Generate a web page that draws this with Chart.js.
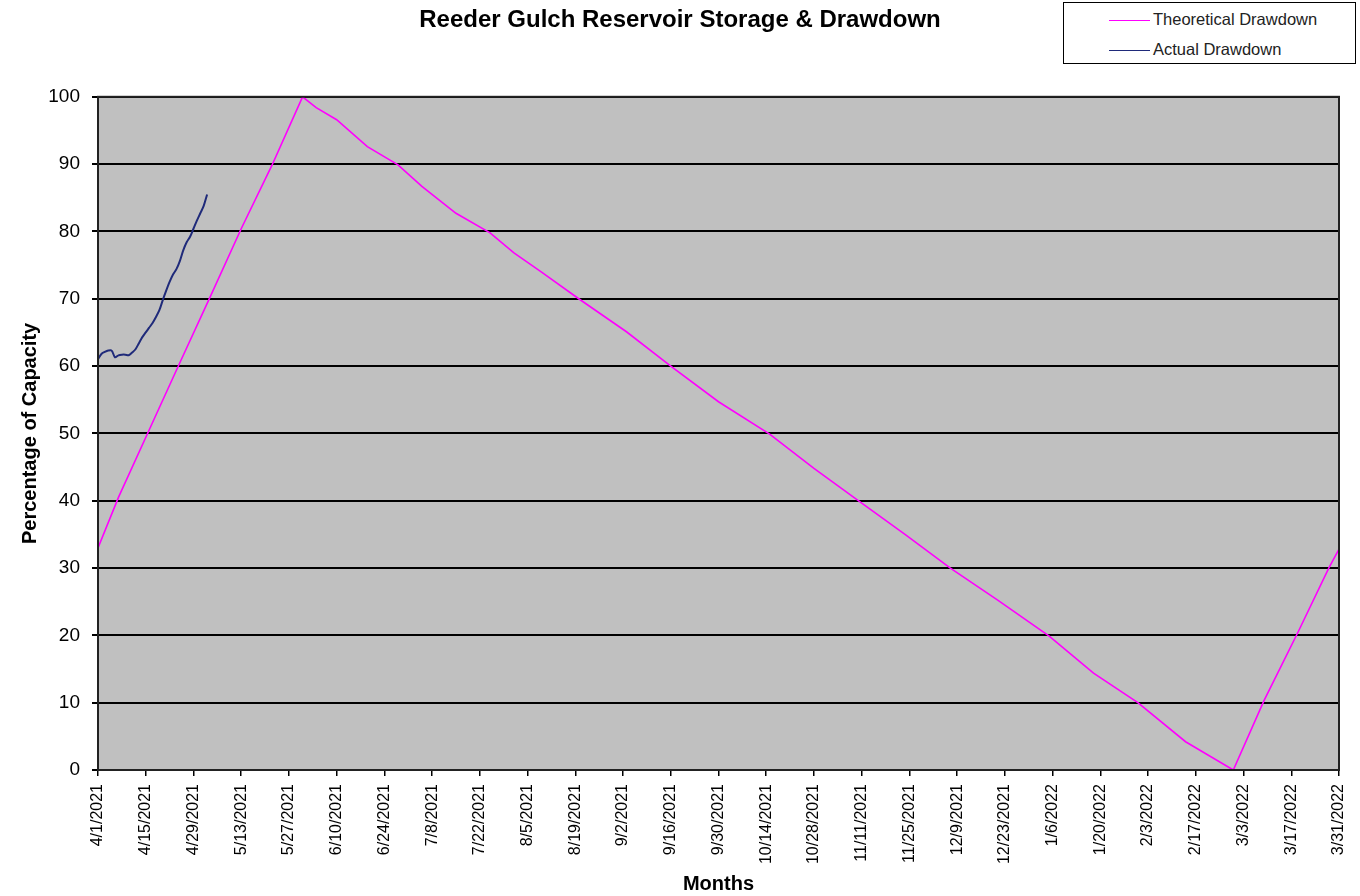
<!DOCTYPE html>
<html>
<head>
<meta charset="utf-8">
<title>Reeder Gulch Reservoir Storage & Drawdown</title>
<script src="https://cdn.jsdelivr.net/npm/chart.js@4/dist/chart.umd.min.js"></script>
<style>
  html, body { margin: 0; padding: 0; background: #fff; }
  #wrap { position: relative; width: 1360px; height: 896px; }
  #legendBox {
    position: absolute; left: 1063px; top: 2px; width: 291px; height: 60px;
    border: 1.5px solid #000; background: #fff;
    font-family: "Liberation Sans", Arial, sans-serif; font-size: 16.5px; color: #222;
  }
  .item { position: absolute; left: 45px; height: 20px; line-height: 20px; white-space: nowrap; }
  .item span.line { display: inline-block; width: 41px; height: 0; border-top: 1.5px solid; vertical-align: middle; margin-right: 3px; }
</style>
</head>
<body>
<div id="wrap">
  <canvas id="dataChart" width="1360" height="896"></canvas>
  <div id="legendBox">
    <div class="item" style="top:6px"><span class="line" style="border-color:#ff00ff"></span>Theoretical Drawdown</div>
    <div class="item" style="top:36px"><span class="line" style="border-color:#1f2a7a"></span>Actual Drawdown</div>
  </div>
</div>
<script>
// Etiquetas del eje X (cada 14 días desde 4/1/2021)
const tickLabels = ['4/1/2021', '4/15/2021', '4/29/2021', '5/13/2021', '5/27/2021', '6/10/2021', '6/24/2021',
  '7/8/2021', '7/22/2021', '8/5/2021', '8/19/2021', '9/2/2021', '9/16/2021', '9/30/2021', '10/14/2021',
  '10/28/2021', '11/11/2021', '11/25/2021', '12/9/2021', '12/23/2021', '1/6/2022', '1/20/2022', '2/3/2022',
  '2/17/2022', '3/3/2022', '3/17/2022', '3/31/2022'];

// Días desde 4/1/2021 y porcentaje de capacidad
const theoDays = [0, 6, 15, 24, 33, 42, 51, 60, 64, 70, 79, 88, 95, 105, 115, 122, 130, 141, 155, 168, 182,
  197, 210, 223, 237, 250, 264, 279, 292, 305, 319, 333, 342, 352, 361, 364];
const theoValues = [33, 40.5, 50.5, 60.5, 70.4, 80.4, 89.8, 100, 98.4, 96.6, 92.6, 89.9, 86.7, 82.7, 79.8,
  76.8, 74.0, 70.0, 65.1, 60.0, 54.7, 49.9, 44.8, 40.0, 34.9, 30.0, 25.2, 19.9, 14.4, 10.0, 4.2, 0,
  10.3, 20.5, 30.0, 32.8];

const actualDays = [0, 1, 2, 3, 4, 5, 6, 7, 8, 9, 10, 11, 12, 13, 14, 15, 16, 17, 18, 19, 20, 21, 22, 23,
  24, 25, 26, 27, 28, 29, 30, 31, 32];
const actualValues = [61.0, 61.8, 62.1, 62.3, 62.3, 61.3, 61.6, 61.7, 61.7, 61.6, 62.0, 62.5, 63.4, 64.3,
  65.0, 65.7, 66.4, 67.3, 68.3, 69.8, 71.2, 72.5, 73.6, 74.4, 75.6, 77.2, 78.4, 79.2, 80.4, 81.6, 82.7,
  83.8, 85.5];

const FONT = '"Liberation Sans", Arial, sans-serif';

// Fondo gris y borde del área de trazado
const plotArea = {
  id: 'plotArea',
  beforeDraw(chart) {
    const { ctx, chartArea: a } = chart;
    ctx.save();
    ctx.fillStyle = '#c0c0c0';
    ctx.fillRect(a.left, a.top, a.right - a.left, a.bottom - a.top);
    ctx.restore();
  },
  afterDatasetsDraw(chart) {
    const { ctx, chartArea: a } = chart;
    ctx.save();
    ctx.strokeStyle = '#222';
    ctx.lineWidth = 2;
    ctx.strokeRect(a.left, a.top, a.right - a.left, a.bottom - a.top);
    ctx.restore();
  }
};

const toPoints = (xs, ys) => xs.map((x, i) => ({ x: x, y: ys[i] }));

new Chart(document.getElementById('dataChart'), {
  type: 'line',
  data: {
    datasets: [{
      label: 'Theoretical Drawdown',
      data: toPoints(theoDays, theoValues),
      borderColor: '#ff00ff',
      borderWidth: 1.6,
      pointRadius: 0,
      tension: 0
    }, {
      label: 'Actual Drawdown',
      data: toPoints(actualDays, actualValues),
      borderColor: '#1f2a7a',
      borderWidth: 2,
      pointRadius: 0,
      tension: 0.3
    }]
  },
  options: {
    responsive: false,
    animation: false,
    layout: { padding: 0 },
    plugins: {
      legend: { display: false },
      tooltip: { enabled: false },
      title: {
        display: true,
        text: 'Reeder Gulch Reservoir Storage & Drawdown',
        color: '#000',
        font: { family: FONT, size: 24, weight: 'bold' },
        padding: { top: 6, bottom: 62 }
      }
    },
    scales: {
      x: {
        type: 'linear',
        min: 0,
        max: 364,
        afterFit(scale) {
          scale.height = 126;
          scale.paddingLeft = 0;
          scale.paddingRight = 0;
        },
        afterBuildTicks(scale) {
          scale.ticks = tickLabels.map((l, i) => ({ value: i * 14 }));
        },
        ticks: {
          autoSkip: false,
          maxRotation: 90,
          minRotation: 90,
          padding: 8,
          color: '#000',
          font: { family: FONT, size: 16 },
          callback: (v, i) => tickLabels[i]
        },
        grid: { drawOnChartArea: false, drawTicks: true, tickLength: 6, color: '#000', lineWidth: 1.5 },
        border: { display: true, color: '#222', width: 2 },
        title: {
          display: true, text: 'Months', color: '#000',
          font: { family: FONT, size: 20, weight: 'bold' },
          padding: { top: 0, bottom: 0 }
        }
      },
      y: {
        min: 0,
        max: 100,
        afterFit(scale) { scale.width = 98; },
        ticks: {
          stepSize: 10,
          padding: 12,
          color: '#000',
          font: { family: FONT, size: 19 }
        },
        grid: { color: '#000', lineWidth: 2, tickLength: 6 },
        border: { display: true, color: '#222', width: 2 },
        title: {
          display: true, text: 'Percentage of Capacity', color: '#000',
          font: { family: FONT, size: 20, weight: 'bold' },
          padding: { top: 18, bottom: 0 }
        }
      },
      // eje invisible a la derecha, solo reserva el margen
      yRight: {
        position: 'right',
        min: 0,
        max: 100,
        afterFit(scale) { scale.width = 21; },
        ticks: { display: false },
        grid: { display: false, drawOnChartArea: false },
        border: { display: false }
      }
    }
  },
  plugins: [plotArea]
});
</script>
</body>
</html>
